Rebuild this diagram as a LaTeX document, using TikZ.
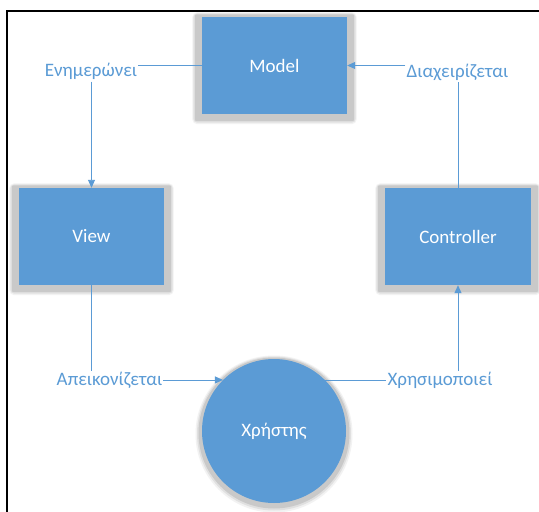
\documentclass[tikz,border=0pt]{standalone}
\usepackage{fontspec}
\setmainfont{Carlito}
\usetikzlibrary{arrows.meta,backgrounds}
\definecolor{accent}{HTML}{5B9BD5}
\begin{document}
\begin{tikzpicture}[x=1pt,y=-1pt, font=\fontsize{19}{23}\selectfont,
  box/.style={rectangle, fill=accent, text=white, minimum width=145pt, minimum height=97pt, inner sep=0pt},
  userc/.style={circle, fill=accent, text=white, minimum size=144pt, inner sep=0pt},
  lbl/.style={text=accent, inner sep=1pt, text height=13pt, text depth=4pt},
  conn/.style={draw=accent, line width=0.9pt},
  arrowed/.style={-{Triangle[length=8pt,width=7pt]}}]
\useasboundingbox (0,0) rectangle (539,512);
\node[box] (model) at (274.5,65.5) {Model};
\node[box] (view) at (91.5,236.5) {View};
\node[box, minimum width=146pt] (controller) at (458,236.5) {Controller};
\node[userc] (user) at (274,431) {Χρήστης};
\node[lbl] (l1) at (91,72) {Ενημερώνει};
\node[lbl] (l2) at (457.5,72.5) {Διαχειρίζεται};
\node[lbl] (l3) at (109.5,380.5) {Απεικονίζεται};
\node[lbl] (l4) at (440,380.5) {Χρησιμοποιεί};
\draw[conn] (model.west) -- (model.west -| l1.east);
\draw[conn,arrowed] (view.north |- l1.south) -- (view.north);
\draw[conn,arrowed] (l2.west |- model.east) -- (model.east);
\draw[conn] (controller.north) -- (controller.north |- l2.south);
\draw[conn] (view.south) -- (view.south |- l3.north);
\draw[conn,arrowed] (user.135 -| l3.east) -- (user.135);
\draw[conn] (user.45) -- (user.45 -| l4.west);
\draw[conn,arrowed] (controller.south |- l4.north) -- (controller.south);
\begin{scope}[on background layer]
\fill[white] (0,0) rectangle (539,512);
\foreach \n in {model,view,controller} {
  \fill[black!5, rounded corners=5pt] ([xshift=-9.5pt,yshift=4.5pt]\n.north west) rectangle ([xshift=9.5pt,yshift=-10pt]\n.south east);
  \fill[black!12, rounded corners=4pt] ([xshift=-8.5pt,yshift=3.5pt]\n.north west) rectangle ([xshift=8.5pt,yshift=-8.5pt]\n.south east);
  \fill[black!21, rounded corners=2pt] ([xshift=-7pt,yshift=2.5pt]\n.north west) rectangle ([xshift=7pt,yshift=-7pt]\n.south east);
}
\fill[black!5] ([yshift=-3pt]user.center) circle (78.5pt);
\fill[black!12] ([yshift=-2.5pt]user.center) circle (77pt);
\fill[black!21] ([yshift=-2pt]user.center) circle (75.5pt);
\end{scope}
\draw[line width=2pt] (6.5,512) -- (6.5,11) -- (539,11);
\end{tikzpicture}
\end{document}
